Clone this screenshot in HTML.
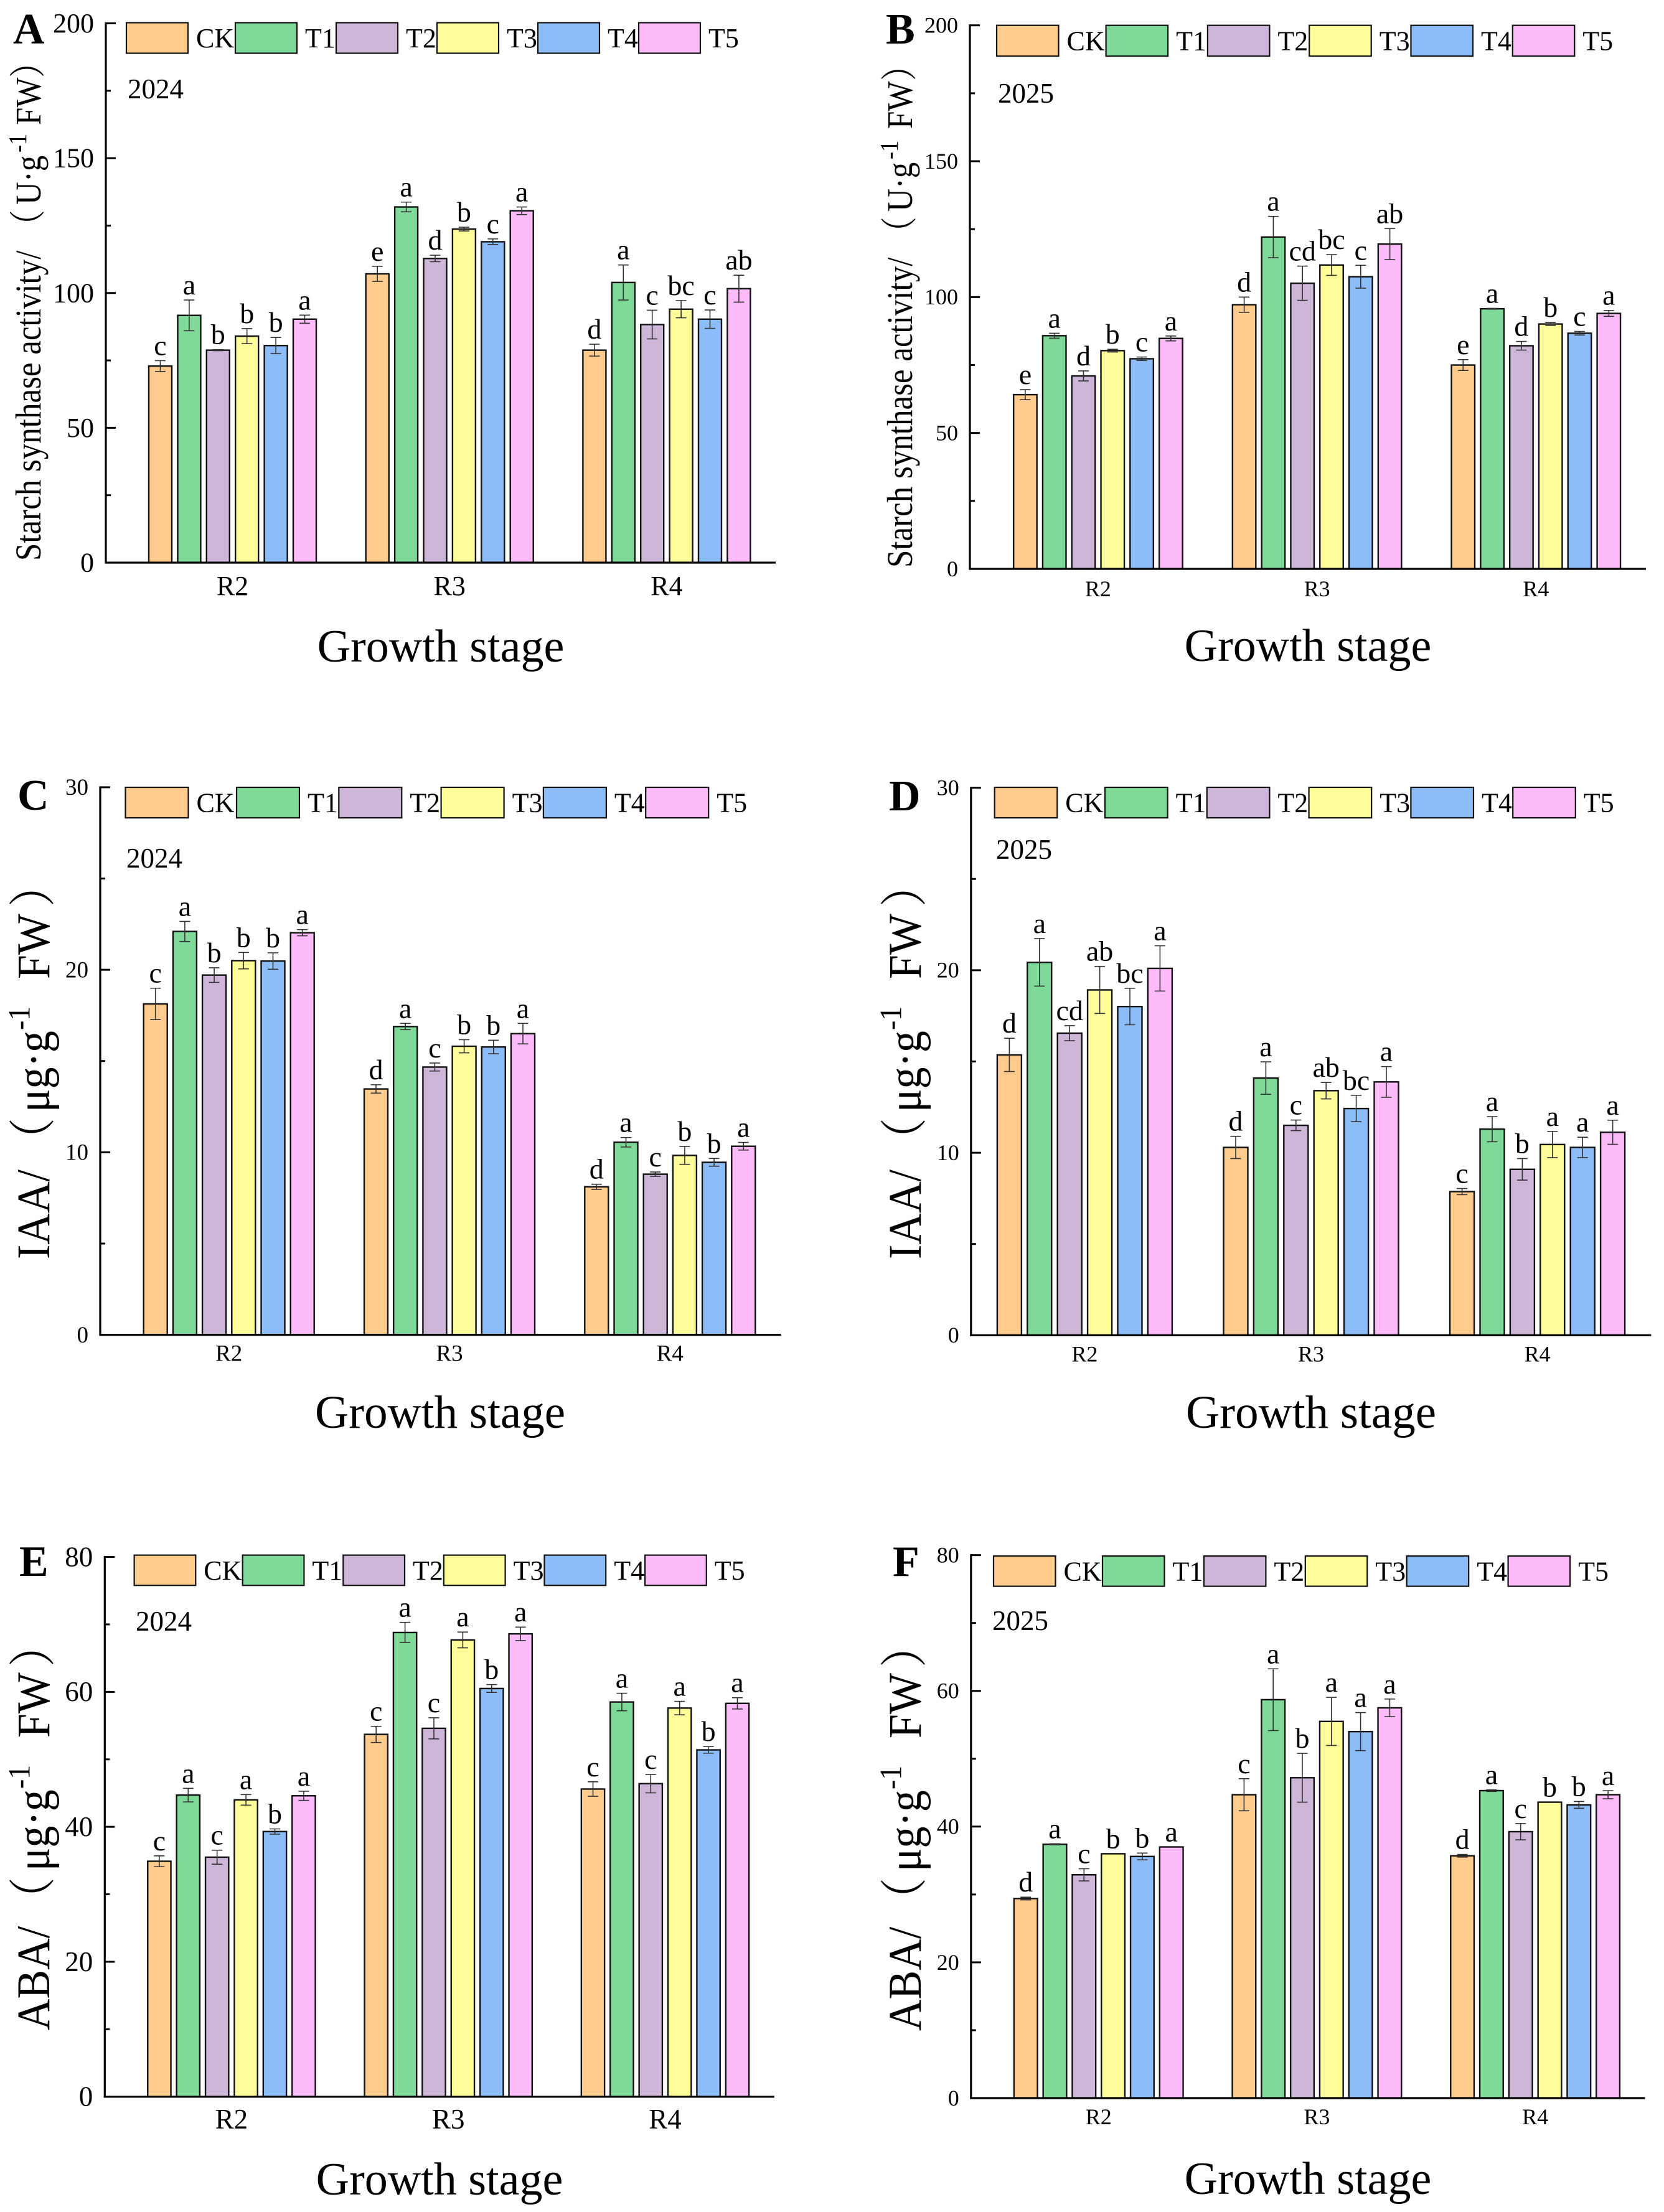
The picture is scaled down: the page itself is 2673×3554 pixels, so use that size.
<!DOCTYPE html>
<html lang="en">
<head>
<meta charset="utf-8">
<title>Starch synthase, IAA and ABA by growth stage</title>
<style>
html,body{margin:0;padding:0;background:#fff;}
svg{display:block;}
text{font-family:"Liberation Serif","Noto Serif CJK SC",serif;fill:#000;}
</style>
</head>
<body>
<svg id="figure" xmlns="http://www.w3.org/2000/svg" width="2673" height="3554" viewBox="0 0 2673 3554">
<rect x="0" y="0" width="2673" height="3554" fill="#ffffff"/>

<text x="21" y="70" font-size="70" font-weight="bold">A</text>
<text x="1423" y="70" font-size="70" font-weight="bold">B</text>
<text x="28" y="1301" font-size="70" font-weight="bold">C</text>
<text x="1428" y="1302" font-size="70" font-weight="bold">D</text>
<text x="31" y="2532" font-size="70" font-weight="bold">E</text>
<text x="1434" y="2532" font-size="70" font-weight="bold">F</text>

<text x="205" y="158" font-size="45">2024</text>
<text x="1603" y="165" font-size="45">2025</text>
<text x="203" y="1394" font-size="45">2024</text>
<text x="1600" y="1380" font-size="45">2025</text>
<text x="218" y="2620" font-size="45">2024</text>
<text x="1594" y="2619" font-size="45">2025</text>

<text x="708" y="1063" font-size="74" text-anchor="middle">Growth stage</text>
<text x="2101" y="1062" font-size="74" text-anchor="middle">Growth stage</text>
<text x="707" y="2294" font-size="75" text-anchor="middle">Growth stage</text>
<text x="2106" y="2294" font-size="75" text-anchor="middle">Growth stage</text>
<text x="706" y="3526" font-size="74" text-anchor="middle">Growth stage</text>
<text x="2101" y="3525" font-size="74" text-anchor="middle">Growth stage</text>

<text transform="translate(65,901) rotate(-90) scale(1,1.15)" font-size="51">Starch synthase activity/<tspan x="513">（</tspan><tspan x="572">U·g</tspan><tspan x="656" y="-20" font-size="36">-1</tspan><tspan x="700" y="0">FW</tspan><tspan x="776">）</tspan></text>
<text transform="translate(1465,912) rotate(-90) scale(1,1.15)" font-size="51">Starch synthase activity/<tspan x="513">（</tspan><tspan x="572">U·g</tspan><tspan x="656" y="-20" font-size="36">-1</tspan><tspan x="705" y="0">FW</tspan><tspan x="782">）</tspan></text>
<text transform="translate(79,2023) rotate(-90) scale(1,1.08)" font-size="70">IAA/<tspan x="157">（</tspan><tspan x="236">μg·g</tspan><tspan x="368" y="-29" font-size="46">-1</tspan><tspan x="450" y="0">FW</tspan><tspan x="566">）</tspan></text>
<text transform="translate(99,2023) translate(1380,0) rotate(-90) scale(1,1.08)" font-size="70">IAA/<tspan x="157">（</tspan><tspan x="236">μg·g</tspan><tspan x="368" y="-29" font-size="46">-1</tspan><tspan x="450" y="0">FW</tspan><tspan x="566">）</tspan></text>
<text transform="translate(79,3262) rotate(-90) scale(1,1.08)" font-size="70">ABA/<tspan x="176">（</tspan><tspan x="256">μg·g</tspan><tspan x="388" y="-29" font-size="46">-1</tspan><tspan x="470" y="0">FW</tspan><tspan x="584">）</tspan></text>
<text transform="translate(1479,3263) rotate(-90) scale(1,1.08)" font-size="70">ABA/<tspan x="176">（</tspan><tspan x="256">μg·g</tspan><tspan x="388" y="-29" font-size="46">-1</tspan><tspan x="470" y="0">FW</tspan><tspan x="584">）</tspan></text>
</svg>

<script>
// Shared categories and series
const categories = ['R2', 'R3', 'R4'];
const seriesNames = ['CK', 'T1', 'T2', 'T3', 'T4', 'T5'];
const seriesColors = ['#FFCC8E', '#7FD998', '#CEB6D9', '#FFFD9A', '#8DBDF8', '#FDBBF9'];

// Panel A: starch synthase 2024 (rows are R2, R3, R4; columns are CK..T5)
const ticksA = [0, 50, 100, 150, 200];
const valuesA = [
  [72.9, 91.7, 78.8, 84.0, 80.5, 90.3],
  [107.1, 131.9, 112.8, 123.7, 119.0, 130.5],
  [78.8, 103.9, 88.3, 94.0, 90.3, 101.6]
];
const errorsA = [
  [2.0, 5.7, 0.2, 2.8, 3.0, 1.5],
  [2.8, 1.8, 1.2, 0.7, 1.05, 1.4],
  [2.2, 6.5, 5.3, 3.2, 3.4, 5.0]
];
const lettersA = [
  ['c', 'a', 'b', 'b', 'b', 'a'],
  ['e', 'a', 'd', 'b', 'c', 'a'],
  ['d', 'a', 'c', 'bc', 'c', 'ab']
];

// Panel B: starch synthase 2025
const ticksB = [0, 50, 100, 150, 200];
const valuesB = [
  [64.1, 85.8, 71.0, 80.3, 77.3, 84.8],
  [97.2, 122.1, 105.1, 111.8, 107.5, 119.5],
  [75.0, 95.7, 82.1, 90.1, 86.7, 94.0]
];
const errorsB = [
  [1.85, 0.9, 1.85, 0.5, 0.65, 0.9],
  [2.8, 7.6, 6.3, 3.8, 4.2, 5.7],
  [2.0, 0.15, 1.6, 0.55, 0.65, 1.1]
];
const lettersB = [
  ['e', 'a', 'd', 'b', 'c', 'a'],
  ['d', 'a', 'cd', 'bc', 'c', 'ab'],
  ['e', 'a', 'd', 'b', 'c', 'a']
];

// Panel C: IAA 2024
const ticksC = [0, 10, 20, 30];
const valuesC = [
  [18.13, 22.1, 19.71, 20.5, 20.48, 22.03],
  [13.47, 16.89, 14.67, 15.81, 15.77, 16.5],
  [8.11, 10.55, 8.8, 9.83, 9.45, 10.33]
];
const errorsC = [
  [0.86, 0.55, 0.4, 0.45, 0.45, 0.17],
  [0.23, 0.17, 0.22, 0.36, 0.37, 0.56],
  [0.14, 0.26, 0.12, 0.49, 0.21, 0.21]
];
const lettersC = [
  ['c', 'a', 'b', 'b', 'b', 'a'],
  ['d', 'a', 'c', 'b', 'b', 'a'],
  ['d', 'a', 'c', 'b', 'b', 'a']
];

// Panel D: IAA 2025
const ticksD = [0, 10, 20, 30];
const valuesD = [
  [15.36, 20.43, 16.55, 18.92, 18.01, 20.1],
  [10.29, 14.09, 11.5, 13.4, 12.42, 13.88],
  [7.87, 11.29, 9.09, 10.45, 10.29, 11.12]
];
const errorsD = [
  [0.91, 1.3, 0.41, 1.29, 1.0, 1.24],
  [0.61, 0.89, 0.29, 0.45, 0.72, 0.84],
  [0.17, 0.69, 0.59, 0.72, 0.56, 0.66]
];
const lettersD = [
  ['d', 'a', 'cd', 'ab', 'bc', 'a'],
  ['d', 'a', 'c', 'ab', 'bc', 'a'],
  ['c', 'a', 'b', 'a', 'a', 'a']
];

// Panel E: ABA 2024
const ticksE = [0, 20, 40, 60, 80];
const valuesE = [
  [34.9, 44.7, 35.5, 44.0, 39.3, 44.6],
  [53.7, 68.8, 54.6, 67.7, 60.5, 68.6],
  [45.6, 58.5, 46.4, 57.6, 51.4, 58.3]
];
const errorsE = [
  [0.8, 1.0, 1.04, 0.78, 0.39, 0.68],
  [1.2, 1.5, 1.56, 1.17, 0.58, 1.0],
  [1.07, 1.3, 1.36, 1.0, 0.49, 0.84]
];
const lettersE = [
  ['c', 'a', 'c', 'a', 'b', 'a'],
  ['c', 'a', 'c', 'a', 'b', 'a'],
  ['c', 'a', 'c', 'a', 'b', 'a']
];

// Panel F: ABA 2025
const ticksF = [0, 20, 40, 60, 80];
const valuesF = [
  [29.4, 37.4, 32.9, 36.0, 35.6, 37.0],
  [44.7, 58.7, 47.2, 55.5, 54.0, 57.5],
  [35.7, 45.3, 39.25, 43.6, 43.2, 44.7]
];
const errorsF = [
  [0.2, 0.08, 0.9, 0, 0.5, 0],
  [2.36, 4.55, 3.6, 3.55, 2.8, 1.3],
  [0.2, 0.12, 1.2, 0, 0.5, 0.6]
];
const lettersF = [
  ['d', 'a', 'c', 'b', 'b', 'a'],
  ['c', 'a', 'b', 'a', 'a', 'a'],
  ['d', 'a', 'c', 'b', 'b', 'a']
];

const svg = document.getElementById('figure');
const NS = 'http://www.w3.org/2000/svg';

function make(tag, attrs, parent, content) {
  const node = document.createElementNS(NS, tag);
  Object.keys(attrs).forEach(function (k) { node.setAttribute(k, attrs[k]); });
  if (content !== undefined) node.textContent = content;
  parent.appendChild(node);
  return node;
}

function drawPanel(id, ticks, values, errors, letters, g) {
  const panel = make('g', {}, svg);
  
  

  const maxTick = ticks[ticks.length - 1];
  const yScale = function (v) { return g.y0 - (v / maxTick) * (g.y0 - g.yTop); };
  const xGroup = function (c) { return g.cx0 + c * g.groupStep; };
  const xBar = function (c, s) { return xGroup(c) + (s - 2.5) * g.barStep; };

  // bars, error bars, significance letters
  categories.forEach(function (cat, c) {
    seriesNames.forEach(function (name, s) {
      const v = values[c][s];
      const e = errors[c][s];
      const cx = xBar(c, s);
      const bar = make('rect', {
        x: cx - g.barW / 2, y: yScale(v), width: g.barW, height: g.y0 - yScale(v),
        fill: seriesColors[s], stroke: '#111', 'stroke-width': 2.4
      }, panel);
      
      

      const errTop = yScale(v + e);
      const errBottom = yScale(v - e);
      if (e > 0) {
        const stem = make('line', { x1: cx, x2: cx, y1: errTop, y2: errBottom, stroke: '#333', 'stroke-width': 1.6 }, panel);
        
        
        const capTop = make('line', { x1: cx - 8.5, x2: cx + 8.5, y1: errTop, y2: errTop, stroke: '#333', 'stroke-width': 1.6 }, panel);
        
        
        const capBottom = make('line', { x1: cx - 8.5, x2: cx + 8.5, y1: errBottom, y2: errBottom, stroke: '#333', 'stroke-width': 1.6 }, panel);
        
        
      }

      const letter = make('text', { x: cx, y: errTop - 9, 'font-size': 46, 'text-anchor': 'middle' }, panel, letters[c][s]);
      
      
    });

    const catLabel = make('text', { x: xGroup(c), y: g.y0 + g.xLabelGap, 'font-size': g.tickFont, 'text-anchor': 'middle' }, panel, cat);
    
    
  });

  // y axis ticks and labels
  ticks.forEach(function (t, i) {
    const ty = yScale(t);
    if (t !== 0) {
      const tick = make('line', { x1: g.left, x2: g.left + 16, y1: ty, y2: ty, stroke: '#000', 'stroke-width': 3 }, panel);
      
      
    }
    if (i > 0) {
      const my = yScale((ticks[i] + ticks[i - 1]) / 2);
      const minor = make('line', { x1: g.left, x2: g.left + 8, y1: my, y2: my, stroke: '#000', 'stroke-width': 3 }, panel);
      
      
    }
    const label = make('text', { x: g.left - 19, y: ty + g.tickFont * 0.33, 'font-size': g.tickFont, 'text-anchor': 'end' }, panel, String(t));
    
    
  });

  // axes
  const yAxis = make('line', { x1: g.left, x2: g.left, y1: g.yTop - 1.5, y2: g.y0 + 1.5, stroke: '#000', 'stroke-width': 3.2 }, panel);
  
  
  const xAxis = make('line', { x1: g.left - 1.5, x2: g.right, y1: g.y0, y2: g.y0, stroke: '#000', 'stroke-width': 3.2 }, panel);
  
  

  // legend
  seriesNames.forEach(function (name, s) {
    const lx = s === 0 ? g.legX0 : g.legX1 + (s - 1) * g.legStep;
    const swatch = make('rect', {
      x: lx, y: g.legY, width: g.legW, height: g.legH,
      fill: seriesColors[s], stroke: '#111', 'stroke-width': 2.2
    }, panel);
    
    
    const entry = make('text', { x: lx + g.legW + 13, y: g.legY + g.legH / 2 + 15, 'font-size': 44 }, panel, name);
    
    
  });
}

drawPanel('a', ticksA, valuesA, errorsA, lettersA, {
  left: 170, right: 1246, y0: 904, yTop: 37.5, cx0: 373.5, groupStep: 348.7, barStep: 46.4, barW: 37,
  tickFont: 44, xLabelGap: 52, legX0: 203, legX1: 378, legStep: 162, legY: 36.5, legH: 49, legW: 99
});
drawPanel('b', ticksB, valuesB, errorsB, lettersB, {
  left: 1558, right: 2644, y0: 914, yTop: 40.7, cx0: 1763.9, groupStep: 351.7, barStep: 46.8, barW: 37.5,
  tickFont: 36, xLabelGap: 44, legX0: 1601, legX1: 1776.6, legStep: 163.3, legY: 40.7, legH: 49.5, legW: 99.5
});
drawPanel('c', ticksC, valuesC, errorsC, lettersC, {
  left: 161, right: 1254.6, y0: 2144.6, yTop: 1264.9, cx0: 367.7, groupStep: 354.3, barStep: 47.2, barW: 38,
  tickFont: 37, xLabelGap: 42, legX0: 201.5, legX1: 380, legStep: 164.3, legY: 1265, legH: 49, legW: 101
});
drawPanel('d', ticksD, valuesD, errorsD, lettersD, {
  left: 1559.8, right: 2652.4, y0: 2145.3, yTop: 1265.6, cx0: 1742.4, groupStep: 363.6, barStep: 48.4, barW: 39,
  tickFont: 36, xLabelGap: 42, legX0: 1597.7, legX1: 1775, legStep: 163.8, legY: 1265, legH: 49, legW: 100.6
});
drawPanel('e', ticksE, valuesE, errorsE, lettersE, {
  left: 168.3, right: 1243.8, y0: 3368.8, yTop: 2501.5, cx0: 371.9, groupStep: 348.3, barStep: 46.4, barW: 37.3,
  tickFont: 45, xLabelGap: 51, legX0: 215.6, legX1: 389.7, legStep: 161.6, legY: 2498.6, legH: 48.6, legW: 98.7
});
drawPanel('f', ticksF, valuesF, errorsF, lettersF, {
  left: 1559.8, right: 2642.5, y0: 3371, yTop: 2498.6, cx0: 1764.7, groupStep: 350.7, barStep: 46.8, barW: 37.7,
  tickFont: 36, xLabelGap: 42, legX0: 1596, legX1: 1771, legStep: 162.9, legY: 2500, legH: 48.6, legW: 99.5
});
</script>
</body>
</html>
